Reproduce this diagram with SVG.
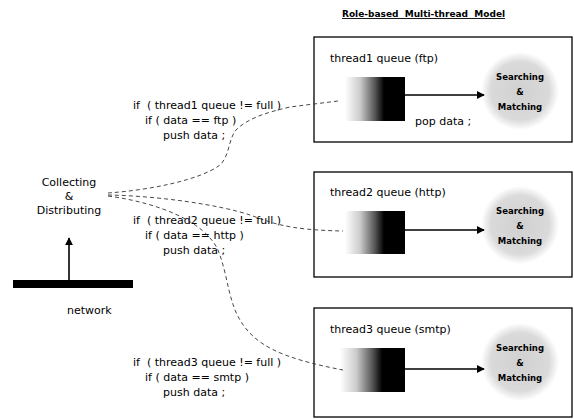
<svg xmlns="http://www.w3.org/2000/svg" width="574" height="419" viewBox="0 0 574 419">
<style>
  text { font-family: "DejaVu Sans", "Liberation Sans", sans-serif; fill: #000; white-space: pre; }
  .code { font-size: 11px; }
  .lbl { font-size: 11px; }
  .title { font-size: 9px; font-weight: bold; text-decoration: underline; }
  .sm { font-size: 8.5px; font-weight: bold; }
  .box { fill: #fff; stroke: #000; stroke-width: 1.3; }
  .conn { fill: none; stroke: #333; stroke-width: 0.9; stroke-dasharray: 4 3; }
  .arr { fill: none; stroke: #000; stroke-width: 1.6; marker-end: url(#ah); }
</style>
<defs>
  <marker id="ah" viewBox="0 0 10 10" refX="9" refY="5" markerWidth="5" markerHeight="5" orient="auto">
    <path d="M0,0 L10,5 L0,10 z" fill="#000"/>
  </marker>
  <linearGradient id="q" x1="0" y1="0" x2="1" y2="0">
    <stop offset="0" stop-color="#fff"/>
    <stop offset="0.25" stop-color="#ccc"/>
    <stop offset="0.5" stop-color="#555"/>
    <stop offset="0.65" stop-color="#000"/>
    <stop offset="1" stop-color="#000"/>
  </linearGradient>
  <radialGradient id="c">
    <stop offset="0" stop-color="#d0d0d0"/>
    <stop offset="0.75" stop-color="#dadada"/>
    <stop offset="1" stop-color="#fff"/>
  </radialGradient>
</defs>

<text class="title" x="342" y="17">Role-based  Multi-thread  Model</text>

<g id="box1">
  <rect class="box" x="314" y="37" width="258" height="105"/>
  <text class="lbl" x="330" y="62">thread1 queue (ftp)</text>
  <rect x="345" y="77" width="60" height="44" fill="url(#q)"/>
  <circle cx="520" cy="91" r="39" fill="url(#c)"/>
  <text class="sm" x="520" y="80" text-anchor="middle">Searching</text>
  <text class="sm" x="520" y="95" text-anchor="middle">&amp;</text>
  <text class="sm" x="520" y="110" text-anchor="middle">Matching</text>
  <text class="lbl" x="415" y="125">pop data ;</text>
</g>

<g id="box2">
  <rect class="box" x="314" y="172" width="258" height="105"/>
  <text class="lbl" x="330" y="196">thread2 queue (http)</text>
  <rect x="345" y="211" width="60" height="43" fill="url(#q)"/>
  <circle cx="520" cy="225" r="39" fill="url(#c)"/>
  <text class="sm" x="520" y="214" text-anchor="middle">Searching</text>
  <text class="sm" x="520" y="229" text-anchor="middle">&amp;</text>
  <text class="sm" x="520" y="244" text-anchor="middle">Matching</text>
</g>

<g id="box3">
  <rect class="box" x="314" y="308" width="258" height="109"/>
  <text class="lbl" x="330" y="333">thread3 queue (smtp)</text>
  <rect x="340" y="348" width="65" height="44" fill="url(#q)"/>
  <circle cx="520" cy="362" r="39" fill="url(#c)"/>
  <text class="sm" x="520" y="351" text-anchor="middle">Searching</text>
  <text class="sm" x="520" y="366" text-anchor="middle">&amp;</text>
  <text class="sm" x="520" y="381" text-anchor="middle">Matching</text>
</g>

<g id="collector">
  <text class="lbl" x="69" y="186" text-anchor="middle">Collecting</text>
  <text class="lbl" x="69" y="200" text-anchor="middle">&amp;</text>
  <text class="lbl" x="69" y="214" text-anchor="middle">Distributing</text>
</g>

<g id="network">
  <rect x="13" y="280" width="120" height="8" fill="#000"/>
  <text class="lbl" x="67" y="314">network</text>
</g>

<g id="code1">
  <text class="code" x="133" y="109">if  ( thread1 queue != full )</text>
  <text class="code" x="145" y="124">if ( data == ftp )</text>
  <text class="code" x="163" y="139">push data ;</text>
</g>
<g id="code2">
  <text class="code" x="133" y="224">if  ( thread2 queue != full )</text>
  <text class="code" x="145" y="239">if ( data == http )</text>
  <text class="code" x="163" y="254">push data ;</text>
</g>
<g id="code3">
  <text class="code" x="133" y="366">if  ( thread3 queue != full )</text>
  <text class="code" x="145" y="381">if ( data == smtp )</text>
  <text class="code" x="163" y="396">push data ;</text>
</g>

<g id="connectors">
  <line class="arr" x1="69" y1="280" x2="69" y2="238"/>
  <line class="arr" x1="405" y1="95" x2="484" y2="95"/>
  <line class="arr" x1="405" y1="230" x2="484" y2="230"/>
  <line class="arr" x1="405" y1="369" x2="484" y2="369"/>
  <path class="conn" d="M108,193 C150,190 200,180 220,165 C230,155 228,140 236,130 C248,118 268,112 290,107 L338,101"/>
  <path class="conn" d="M108,195 C160,196 220,205 250,215 C270,222 285,230 343,231"/>
  <path class="conn" d="M108,196 C160,203 205,222 218,250 C228,275 228,300 240,320 C255,345 280,358 343,370"/>
</g>
</svg>
